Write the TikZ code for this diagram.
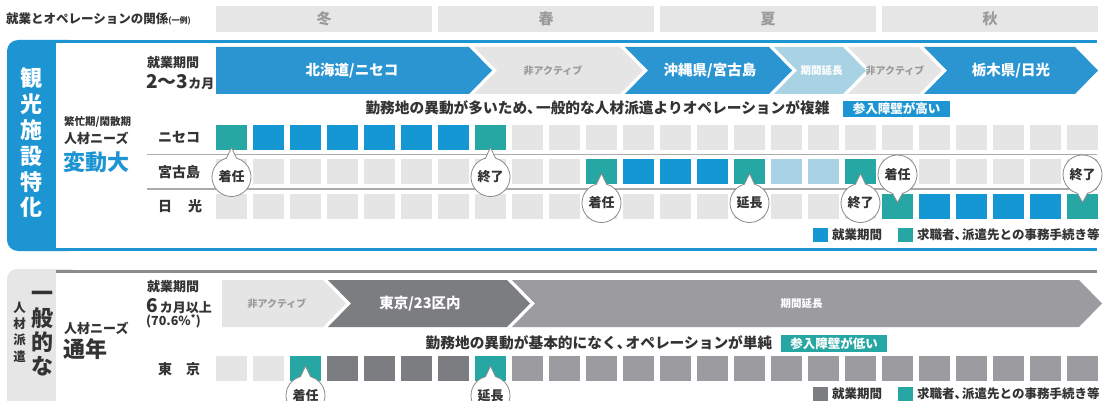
\documentclass[tikz,border=0pt]{standalone}
\usepackage{fontspec}
\setmainfont{Noto Sans CJK JP}
\newcommand\fsz[1]{\fontsize{#1}{#1}\selectfont}
\newcommand\tk{{、}\kern-0.4em}
\definecolor{cText}{HTML}{333333}
\definecolor{cGreyTxt}{HTML}{9A9A9A}
\definecolor{cPanelBlue}{HTML}{1E95D3}
\definecolor{cChevBlue}{HTML}{2B95D1}
\definecolor{cBlue}{HTML}{1597D4}
\definecolor{cTeal}{HTML}{27A7A3}
\definecolor{cLBlue}{HTML}{A9D3E5}
\definecolor{cLGrey}{HTML}{E5E5E5}
\definecolor{cDGrey}{HTML}{7C7D81}
\definecolor{cMGrey}{HTML}{9C9BA0}
\definecolor{cPanelGrey}{HTML}{E6E6E6}
\definecolor{cLineGrey}{HTML}{8C8C8C}
\definecolor{cSep}{HTML}{ABABAB}
\definecolor{cCallout}{HTML}{8A8A8A}
\newcommand\cellrow[2]{\foreach \c [count=\i from 0] in {#2} {\fill[fill=\c] ({216+37*\i},#1) rectangle ++(31,25);}}
\newcommand\calup[4]{%
  \path[callline] (#2,#3) ++(255:19.5) arc[start angle=255,end angle=-75,radius=19.5] -- (#2,#3-29.5) -- cycle;
  \node[lbl=13] (#1) at (#2,#3) {#4};}
\newcommand\caldown[4]{%
  \path[callline] (#2,#3) ++(75:19.5) arc[start angle=75,end angle=-255,radius=19.5] -- (#2,#3+28) -- cycle;
  \node[lbl=13] (#1) at (#2,#3) {#4};}
\begin{document}
\begin{tikzpicture}[x=1pt,y=-1pt,
  lbl/.style={inner sep=0pt, text=cText, font=\bfseries\fsz{#1}},
  wlbl/.style={inner sep=0pt, text=white, font=\bfseries\fsz{#1}},
  glbl/.style={inner sep=0pt, text=cGreyTxt, font=\bfseries\fsz{#1}},
  callline/.style={fill=white, draw=cCallout, line width=0.8pt},
  sepline/.style={draw=cSep, line width=1.2pt},
  badge/.style={inner sep=0pt, text=white, font=\bfseries\fsz{12.5}, minimum height=16.5, minimum width=#1}
]
\fill[white] (0,0) rectangle (1105,401);
\useasboundingbox (0,0) rectangle (1105,401);

% title and seasons
\node[lbl=12.5, anchor=west] (title) at (6,19) {就業とオペレーションの関係{\fsz{8}(一例)}};
\foreach \s/\x [count=\k] in {冬/216,春/438,夏/660,秋/882} {
  \fill[cPanelGrey] (\x,6) rectangle ++(216,26);
  \node[glbl=15] (season\k) at (\x+108,19) {\s};
}

% ===== top panel =====
\fill[cPanelBlue, rounded corners=11] (7,40) rectangle (80,251);
\fill[cPanelBlue] (50,40) rectangle (1097,251);
\fill[white] (56,43) rectangle (1097,248);
\node[wlbl=22, align=center, font=\bfseries\fontsize{22}{25.8}\selectfont] (vt1) at (31,143) {観\\光\\施\\設\\特\\化};

\node[lbl=13, anchor=west] (p1a) at (147,63) {就業期間};
\node[lbl=13, anchor=west] (p1b) at (146,82) {{\fsz{19}2〜3}{\fsz{13}カ月}};
\node[lbl=10.5, anchor=west] (n1a) at (64,122) {繁忙期/閑散期};
\node[lbl=13, anchor=west] (n1b) at (64,138) {人材ニーズ};
\node[inner sep=0pt, anchor=west, text=cPanelBlue, font=\bfseries\fsz{22}] (n1c) at (63,162) {変動大};

% chevrons top
\fill[cChevBlue] (216,47) -- (469,47) -- (492,70.5) -- (469,94) -- (216,94) -- cycle;
\fill[cLGrey] (474,47) -- (620,47) -- (643,70.5) -- (620,94) -- (474,94) -- (497,70.5) -- cycle;
\fill[cChevBlue] (625,47) -- (769,47) -- (792,70.5) -- (769,94) -- (625,94) -- (648,70.5) -- cycle;
\fill[cLBlue] (774,47) -- (843,47) -- (866,70.5) -- (843,94) -- (774,94) -- (797,70.5) -- cycle;
\fill[cLGrey] (848,47) -- (919,47) -- (942,70.5) -- (919,94) -- (848,94) -- (871,70.5) -- cycle;
\fill[cChevBlue] (924,47) -- (1075,47) -- (1098,70.5) -- (1075,94) -- (924,94) -- (947,70.5) -- cycle;
\node[wlbl=14.5] (c1) at (352,71) {北海道/ニセコ};
\node[glbl=10] (c2) at (553,71) {非アクティブ};
\node[wlbl=14.5] (c3) at (710,71) {沖縄県/宮古島};
\node[wlbl=10.5] (c4) at (821.5,71) {期間延長};
\node[glbl=10] (c5) at (895,71) {非アクティブ};
\node[wlbl=14.5] (c6) at (1011,71) {栃木県/日光};

\node[lbl=14.7] (st1) at (597.5,108) {勤務地の異動が多いため\tk 一般的な人材派遣よりオペレーションが複雑};
\node[badge=107, fill=cPanelBlue] (bd1) at (896.5,109) {参入障壁が高い};

% rows
\node[lbl=14, anchor=west] (r1) at (158,137.5) {ニセコ};
\node[lbl=14, anchor=west] (r2) at (158,172) {宮古島};
\node[lbl=14, anchor=west] (r3) at (158,206.5) {日\hspace{16pt}光};
\draw[sepline] (147,154.5) -- (1097,154.5);
\draw[sepline] (147,189) -- (1097,189);
\cellrow{125}{cTeal,cBlue,cBlue,cBlue,cBlue,cBlue,cBlue,cTeal,cLGrey,cLGrey,cLGrey,cLGrey,cLGrey,cLGrey,cLGrey,cLGrey,cLGrey,cLGrey,cLGrey,cLGrey,cLGrey,cLGrey,cLGrey,cLGrey}
\cellrow{159}{cLGrey,cLGrey,cLGrey,cLGrey,cLGrey,cLGrey,cLGrey,cLGrey,cLGrey,cLGrey,cTeal,cBlue,cBlue,cBlue,cTeal,cLBlue,cLBlue,cTeal,cLGrey,cLGrey,cLGrey,cLGrey,cLGrey,cLGrey}
\cellrow{194}{cLGrey,cLGrey,cLGrey,cLGrey,cLGrey,cLGrey,cLGrey,cLGrey,cLGrey,cLGrey,cLGrey,cLGrey,cLGrey,cLGrey,cLGrey,cLGrey,cLGrey,cLGrey,cTeal,cBlue,cBlue,cBlue,cBlue,cTeal}

\calup{k1}{231.5}{177}{着任}
\calup{k2}{490.5}{177}{終了}
\calup{k3}{601.5}{203}{着任}
\calup{k4}{749.5}{203}{延長}
\calup{k5}{860.5}{203}{終了}
\caldown{k6}{897.5}{174.5}{着任}
\caldown{k7}{1082.5}{174.5}{終了}

% legend top
\fill[cBlue] (813,228) rectangle (828,242);
\node[lbl=12.5, anchor=west] (lg1) at (832,235) {就業期間};
\fill[cTeal] (898,228) rectangle (913,242);
\node[lbl=12.5, anchor=west] (lg2) at (917,235) {求職者\tk 派遣先との事務手続き等};

% ===== bottom panel =====
\fill[cPanelGrey, rounded corners=10] (7,269) rectangle (80,430);
\fill[white] (56,272) rectangle (1105,430);
\fill[cLineGrey] (56,269.5) rectangle (1097,272.5);
\node[lbl=22, align=center, font=\bfseries\fontsize{22}{24.3}\selectfont] (vt2) at (42,334) {一\\般\\的\\な};
\node[lbl=12.5, align=center, font=\bfseries\fontsize{12.5}{16.3}\selectfont] (vt3) at (19.5,332) {人\\材\\派\\遣};

\node[lbl=13, anchor=west] (n2a) at (64,328) {人材ニーズ};
\node[lbl=22, anchor=west] (n2b) at (63,349) {通年};
\node[lbl=13, anchor=west] (p2a) at (147,287) {就業期間};
\node[lbl=13, anchor=west] (p2b) at (146,306) {{\fsz{19}6}\hspace{2pt}{\fsz{13}カ月以上}};
\node[lbl=12.5, anchor=west] (p2c) at (146,321) {(70.6\%\textsuperscript{*})};

\fill[cLGrey] (222,280) -- (323,280) -- (346,303.5) -- (323,327) -- (222,327) -- cycle;
\fill[cDGrey] (328,280) -- (507,280) -- (530,303.5) -- (507,327) -- (328,327) -- (351,303.5) -- cycle;
\fill[cMGrey] (512,280) -- (1079,280) -- (1102,303.5) -- (1079,327) -- (512,327) -- (535,303.5) -- cycle;
\node[glbl=10] (d1) at (277,304) {非アクティブ};
\node[wlbl=14.5] (d2) at (420,304) {東京/23区内};
\node[wlbl=10.5] (d3) at (801.5,304) {期間延長};

\node[lbl=14.7] (st2) at (599,343) {勤務地の異動が基本的になく\tk オペレーションが単純};
\node[badge=106, fill=cTeal] (bd2) at (834,343.5) {参入障壁が低い};

\node[lbl=14, anchor=west] (r4) at (158,369) {東\hspace{14pt}京};
\cellrow{356}{cLGrey,cLGrey,cTeal,cDGrey,cDGrey,cDGrey,cDGrey,cTeal,cMGrey,cMGrey,cMGrey,cMGrey,cMGrey,cMGrey,cMGrey,cMGrey,cMGrey,cMGrey,cMGrey,cMGrey,cMGrey,cMGrey,cMGrey,cMGrey}
\calup{k8}{305.5}{395.5}{着任}
\calup{k9}{490.5}{395.5}{延長}

% legend bottom
\fill[cDGrey] (813,387) rectangle (828,401);
\node[lbl=12.5, anchor=west] (lg3) at (832,394) {就業期間};
\fill[cTeal] (898,387) rectangle (913,401);
\node[lbl=12.5, anchor=west] (lg4) at (917,394) {求職者\tk 派遣先との事務手続き等};
\end{tikzpicture}
\end{document}
